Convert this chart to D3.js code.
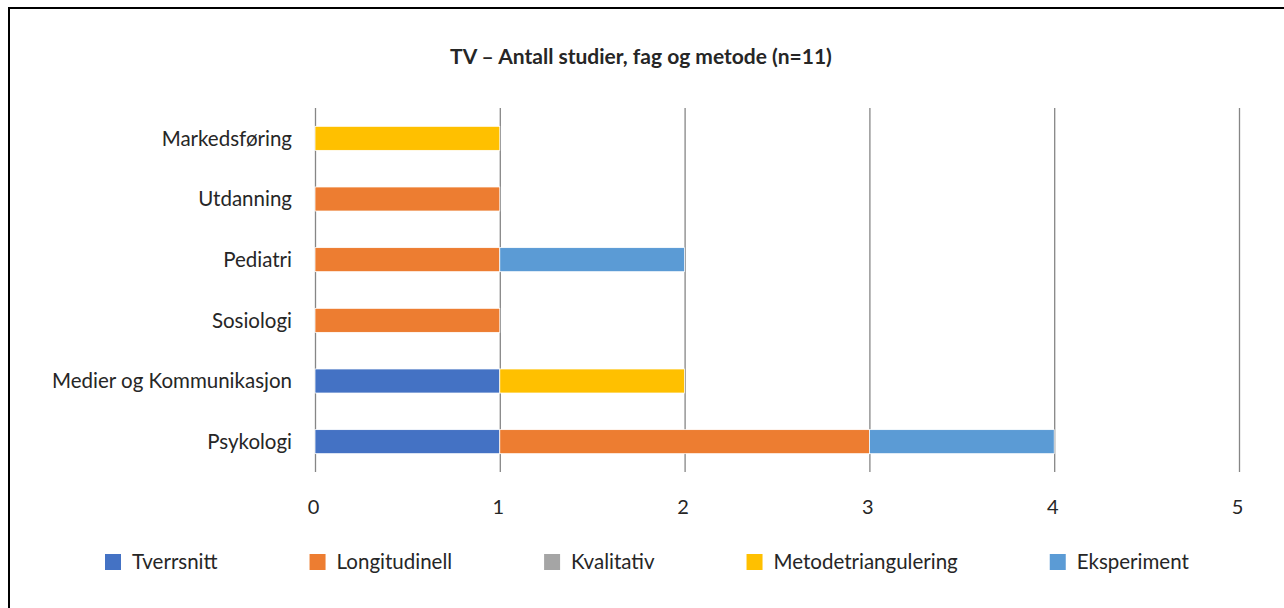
<!DOCTYPE html>
<html>
<head>
<meta charset="utf-8">
<script src="https://cdn.jsdelivr.net/npm/d3@7"></script>
<style>
  body { margin: 0; background: #fff; overflow: hidden; }
  svg { display: block; }
  svg text { font-family: Lato, "Open Sans", sans-serif; fill: #262626; }
</style>
</head>
<body>
<div id="chart"></div>
<script>
// ---- data ----
const categories = ["Markedsføring", "Utdanning", "Pediatri", "Sosiologi", "Medier og Kommunikasjon", "Psykologi"];
const methods = ["Tverrsnitt", "Longitudinell", "Kvalitativ", "Metodetriangulering", "Eksperiment"];
const colors = ["#4472C4", "#ED7D31", "#A5A5A5", "#FFC000", "#5B9BD5"];
// values per method, in the same order as categories
const tverrsnitt = [0, 0, 0, 0, 1, 1];
const longitudinell = [0, 1, 1, 1, 0, 2];
const kvalitativ = [0, 0, 0, 0, 0, 0];
const metodetriangulering = [1, 0, 0, 0, 1, 0];
const eksperiment = [0, 0, 1, 0, 0, 1];
const xTicks = [0, 1, 2, 3, 4, 5];
const title = "TV – Antall studier, fag og metode (n=11)";

const W = 1284, H = 608;
const plot = { left: 315, right: 1239, top: 108, bottom: 472 };

const svg = d3.select("#chart").append("svg")
    .attr("width", W)
    .attr("height", H);

// frame: only the left and top edges show in the crop
svg.append("path")
    .attr("d", `M9,${H}V8H${W}`)
    .attr("fill", "none")
    .attr("stroke", "#000")
    .attr("stroke-width", 2);

svg.append("text")
    .attr("x", 641)
    .attr("y", 64)
    .attr("text-anchor", "middle")
    .attr("font-size", "21px")
    .attr("font-weight", "bold")
    .text(title);

const x = d3.scaleLinear().domain([0, 5]).range([plot.left, plot.right]);
const y = d3.scaleBand().domain(categories)
    .range([plot.top, plot.bottom])
    .paddingInner(0.604).paddingOuter(0.302);

// gridlines + tick labels
const xAxis = svg.append("g")
    .attr("transform", `translate(0,${plot.bottom})`)
    .call(d3.axisBottom(x).tickValues(xTicks).tickSize(-(plot.bottom - plot.top)).tickFormat(d3.format("d")));
xAxis.select(".domain").remove();
xAxis.selectAll(".tick line").attr("stroke", "#868686").attr("stroke-width", 1.3);
xAxis.selectAll(".tick text")
    .attr("x", -2)
    .attr("y", 42).attr("dy", 0)
    .attr("font-size", "20px")
    .attr("font-family", "Lato, sans-serif")
    .attr("fill", "#262626");

// category labels
svg.append("g").selectAll("text")
    .data(categories)
    .enter().append("text")
    .attr("x", plot.left - 23)
    .attr("y", d => y(d) + y.bandwidth() / 2)
    .attr("dy", "0.36em")
    .attr("text-anchor", "end")
    .attr("font-size", "20.5px")
    .text(d => d);

// stacked bars
const table = categories.map((c, i) => ({
    cat: c,
    Tverrsnitt: tverrsnitt[i],
    Longitudinell: longitudinell[i],
    Kvalitativ: kvalitativ[i],
    Metodetriangulering: metodetriangulering[i],
    Eksperiment: eksperiment[i]
}));
const stack = d3.stack().keys(methods)(table);

svg.append("g").selectAll("g")
    .data(stack)
    .enter().append("g")
    .attr("fill", (d, i) => colors[i])
    .selectAll("rect")
    .data(d => d.filter(s => s[1] > s[0]))
    .enter().append("rect")
    .attr("x", d => x(d[0]))
    .attr("y", d => y(d.data.cat))
    .attr("width", d => x(d[1]) - x(d[0]))
    .attr("height", y.bandwidth())
    .attr("stroke", "#fff")
    .attr("stroke-width", 0.75);

// legend
const legend = svg.append("g");
let lx = 105;
methods.forEach((m, i) => {
    const item = legend.append("g").attr("transform", `translate(${lx},554)`);
    item.append("rect").attr("width", 16).attr("height", 16).attr("fill", colors[i]);
    const t = item.append("text")
        .attr("x", 27).attr("y", 8).attr("dy", "0.36em")
        .attr("font-size", "20.5px")
        .text(m);
    lx += 27 + t.node().getComputedTextLength() + 92;
});
</script>
</body>
</html>
